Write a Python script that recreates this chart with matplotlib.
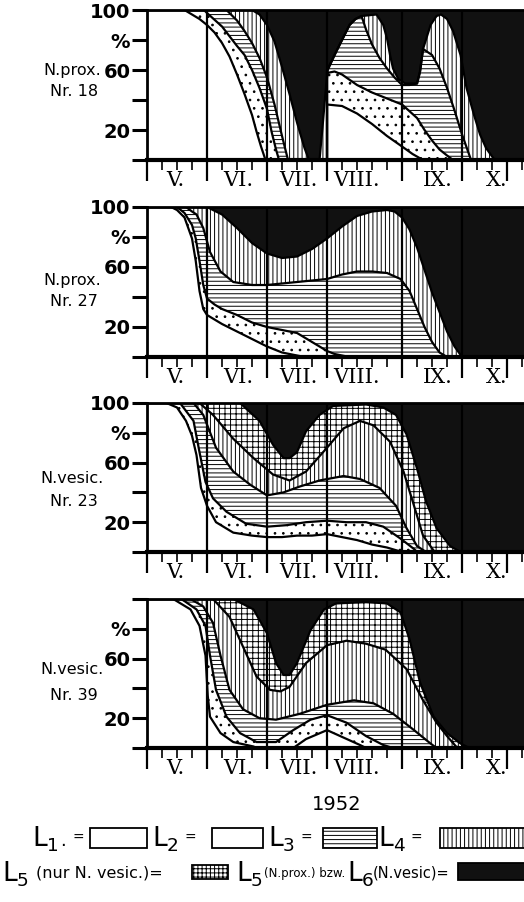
import numpy as np
import matplotlib
matplotlib.use("Agg")
import matplotlib.pyplot as plt
from matplotlib.patches import Rectangle

W, H = 524, 902
XMAX = 25.13          # right edge of the plots (weeks)
INK = "#111111"

# x axis in weeks from 1 May 1952 (one small tick = one week)
months = ["V.", "VI.", "VII.", "VIII.", "IX.", "X."]
month_at = [1.87, 6.1, 10.1, 14.0, 19.4, 23.3]
month_lines = [4, 8, 12, 17, 21]
major_ticks = [0, 4, 8, 12, 17, 21, 24]

# cumulative upper borders of the stages in % (L1, L1+L2, ...), black above the last one
# N.prox. Nr. 18
p18_x1 = [0, 2.5, 3, 3.5, 4, 4.5, 5, 5.5, 6, 6.5, 7, 7.3, 7.6, 7.9, 12, 12, 13, 14, 15, 16, 17, 17.7, 18.4, 25.2]
p18_y1 = [100, 100, 97, 94, 90, 85, 78, 69, 57, 44, 30, 19, 9, 0, 0, 37, 36, 31, 24, 16, 9, 4, 0, 0]
p18_x2 = [0, 3.8, 4, 5, 6, 6.5, 7, 7.5, 8, 8.3, 8.6, 8.8, 12, 12, 12.5, 13, 14, 15, 16, 17, 18, 18.5, 19, 19.5, 20, 20.4, 25.2]
p18_y2 = [100, 100, 98, 89, 76, 70, 60, 48, 34, 19, 7, 0, 0, 58, 59, 57, 50, 45, 41, 37, 28, 20, 13, 7, 3, 0, 0]
p18_x3 = [0, 5.3, 6, 6.5, 7, 7.5, 8, 8.5, 9, 9.4, 12, 12, 12.6, 13.1, 13.5, 13.9, 14.3, 14.6, 15, 15.5, 16, 16.5,
          17, 17.5, 18, 18.2, 18.4, 19, 19.5, 20, 20.5, 21, 21.6, 25.2]
p18_y3 = [100, 100, 93, 86, 78, 68, 55, 37, 16, 0, 0, 60, 72, 82, 90, 94, 96, 87, 77, 68, 61, 55,
          50, 50, 51, 59, 74, 70, 61, 48, 33, 17, 0, 0]
p18_x4 = [0, 7.0, 7.5, 8, 8.5, 9, 9.5, 10, 10.5, 10.8, 11.5, 11.7, 11.9, 12.05, 12.6, 13.1, 13.5, 13.9, 14.3, 15.3,
          15.75, 16, 16.2, 16.4, 16.75, 17.2, 18, 18.2, 18.4, 18.9, 19.3, 19.6, 20, 20.4, 20.9, 21.3, 21.8, 22.2,
          22.6, 23.1, 23.3, 25.2]
p18_y4 = [100, 100, 97, 90, 79, 62, 44, 25, 8, 0, 0, 22, 45, 60, 72, 82, 90, 94, 96, 97,
          90, 81, 70, 61, 54, 51, 51, 59, 74, 90, 96, 97, 94, 86, 70, 48, 30, 17,
          8, 1, 0, 0]

# N.prox. Nr. 27
p27_x1 = [0, 1.6, 2, 2.5, 3, 3.25, 3.5, 3.75, 4, 5, 6, 7, 8, 9, 10, 10.5, 25.2]
p27_y1 = [100, 100, 98, 93, 79, 64, 44, 32, 28, 22, 17, 12, 7, 3, 1, 0, 0]
p27_x2 = [0, 2, 2.5, 3, 3.25, 3.5, 3.75, 4, 4.5, 5, 6, 7, 8, 9, 10, 10.5, 11, 11.5, 12, 12.5, 13, 13.5, 25.2]
p27_y2 = [100, 100, 96, 88, 79, 64, 48, 39, 35, 32, 28, 23, 20, 18, 16, 13, 10, 7, 4, 2, 1, 0, 0]
p27_x3 = [0, 2.6, 3, 3.3, 3.75, 4.2, 4.9, 5.75, 7, 8, 9, 10, 11, 12, 13, 14, 15, 16, 16.9, 17.5, 18, 18.5, 19,
          19.5, 20, 25.2]
p27_y3 = [100, 100, 97, 95, 86, 70, 57, 50, 48, 48, 49, 50, 51, 52, 55, 57, 57, 56, 52, 44, 32, 20, 10,
          3, 0, 0]
p27_x4 = [0, 4, 5, 6, 7, 8, 9, 10, 11, 12, 13, 14, 15, 16, 16.5, 17, 17.5, 18, 18.5, 19, 19.5, 20, 20.5, 21, 25.2]
p27_y4 = [100, 100, 95, 86, 76, 69, 66, 67, 72, 79, 87, 94, 97, 98, 97, 93, 85, 73, 58, 43, 30, 17, 7, 0, 0]

# N.vesic. Nr. 23
p23_x1 = [0, 1.3, 2, 2.6, 3, 3.3, 3.6, 4, 4.6, 5.75, 7, 8, 9, 10, 11, 12, 13, 14, 15, 16, 17, 25.2]
p23_y1 = [100, 100, 97, 88, 78, 65, 43, 31, 20, 13, 11, 10, 10, 11, 11, 12, 10, 8, 5, 3, 0, 0]
p23_x2 = [0, 2.2, 3.1, 3.5, 3.9, 4.4, 5.3, 6.6, 8, 9.3, 10.6, 12, 13.3, 14.6, 15.75, 16.9, 17.8, 18, 25.2]
p23_y2 = [100, 100, 88, 67, 47, 36, 27, 19, 17, 18, 20, 21, 20, 20, 17, 9, 2, 0, 0]
p23_x3 = [0, 3.1, 3.75, 4.6, 5.75, 6.9, 8, 9.1, 10.2, 11.5, 13.1, 14.2, 15.5, 16.6, 17.3, 18, 18.6, 25.2]
p23_y3 = [100, 100, 92, 70, 54, 45, 38, 40, 44, 48, 51, 49, 43, 31, 16, 4, 0, 0]
p23_x4 = [0, 3.5, 4.4, 5.75, 7.1, 8.4, 9.5, 10.6, 12, 13.1, 14.2, 15.1, 16.2, 17.1, 17.8, 18.4, 19.1, 19.3, 25.2]
p23_y4 = [100, 100, 92, 76, 63, 52, 48, 54, 70, 83, 88, 85, 74, 54, 31, 11, 1, 0, 0]
p23_x5 = [0, 6.2, 7.5, 8.4, 9.1, 9.5, 10, 10.6, 11.5, 12.4, 14.6, 15.75, 16.6, 17.3, 18, 18.6, 19.3, 20.2, 20.9, 25.2]
p23_y5 = [100, 100, 88, 72, 63, 63, 67, 81, 92, 98, 99, 97, 92, 79, 56, 34, 16, 4, 0, 0]

# N.vesic. Nr. 39
p39_x1 = [0, 1.75, 2.9, 3.5, 3.9, 4.05, 4.2, 4.9, 5.75, 7.1, 7.3, 9.75, 10.6, 12, 13.1, 14.2, 14.6, 25.2]
p39_y1 = [100, 100, 93, 82, 62, 35, 21, 10, 4, 1, 0, 0, 6, 12, 7, 2, 0, 0]
p39_x2 = [0, 2.3, 3.3, 3.9, 4.2, 4.6, 5.3, 6.2, 7.3, 8.6, 9.75, 10.9, 12, 13.3, 14.6, 15.75, 16.4, 25.2]
p39_y2 = [100, 100, 93, 82, 62, 39, 21, 10, 4, 4, 12, 19, 22, 17, 8, 2, 0, 0]
p39_x3 = [0, 2.9, 3.75, 4.4, 4.9, 5.5, 6.4, 7.5, 8.6, 10.2, 12, 13.8, 15.1, 16.4, 17.8, 18.9, 19.3, 25.2]
p39_y3 = [100, 100, 95, 84, 62, 39, 26, 20, 19, 23, 29, 32, 30, 23, 12, 3, 0, 0]
p39_x4 = [0, 4.4, 5.5, 6.4, 7.3, 8.2, 8.9, 9.5, 10.6, 12, 13.3, 14.6, 15.9, 17.3, 18.4, 19.3, 20, 20.6, 20.9, 25.2]
p39_y4 = [100, 100, 88, 68, 48, 39, 38, 41, 57, 69, 72, 70, 66, 53, 32, 17, 8, 1, 0, 0]
p39_x5 = [0, 5.75, 7.1, 8, 8.6, 9.1, 9.5, 10, 10.9, 11.8, 12.6, 14.6, 16, 16.9, 17.5, 18.2, 19.1, 20, 20.9, 21.5, 25.2]
p39_y5 = [100, 100, 93, 77, 57, 49, 49, 57, 79, 93, 97, 98, 97, 91, 73, 44, 21, 10, 3, 0, 0]

prox_hatch = [None, "..", "----", "||||"]
vesic_hatch = [None, "..", "----", "||||", "+++"]

panels = [
    # (label 1, label 2, curves, hatches, top px, bottom px, y tick labels)
    ("N.prox.", "Nr. 18", [(p18_x1, p18_y1), (p18_x2, p18_y2), (p18_x3, p18_y3), (p18_x4, p18_y4)],
     prox_hatch, 10, 160, ["", "20", "", "60", "%", "100"]),
    ("N.prox.", "Nr. 27", [(p27_x1, p27_y1), (p27_x2, p27_y2), (p27_x3, p27_y3), (p27_x4, p27_y4)],
     prox_hatch, 207, 357, ["", "20", "", "60", "%", "100"]),
    ("N.vesic.", "Nr. 23", [(p23_x1, p23_y1), (p23_x2, p23_y2), (p23_x3, p23_y3), (p23_x4, p23_y4),
                            (p23_x5, p23_y5)],
     vesic_hatch, 403, 552, ["", "20", "", "60", "%", "100"]),
    ("N.vesic.", "Nr. 39", [(p39_x1, p39_y1), (p39_x2, p39_y2), (p39_x3, p39_y3), (p39_x4, p39_y4),
                            (p39_x5, p39_y5)],
     vesic_hatch, 599, 748, ["", "20", "", "60", "%", ""]),
]
label_dy = [(60, 82), (74, 95), (76, 98), (70, 96)]

plt.rcParams["hatch.linewidth"] = 0.7
plt.rcParams["font.family"] = ["DejaVu Sans"]
fig = plt.figure(figsize=(W / 100, H / 100), dpi=100)


def fx(px):
    return px / W


def fy(py):
    return 1 - py / H


for (lab1, lab2, curves, hatches, top, bot, ylabs), (d1, d2) in zip(panels, label_dy):
    ax = fig.add_axes([fx(147), fy(bot), fx(W - 147), (bot - top) / H])
    ax.fill_between([0, XMAX + 1], 0, 100, color=INK, lw=0, zorder=1)
    for k in range(len(curves) - 1, -1, -1):
        x, y = curves[k]
        ax.fill_between(x, 0, y, facecolor="white", edgecolor="black", hatch=hatches[k], lw=0, zorder=2)
    for x, y in curves:
        ax.plot(x, y, color="black", lw=1.6, zorder=3, solid_joinstyle="round")
    for m in month_lines:
        ax.axvline(m, color="black", lw=1.6, zorder=3)

    ax.set_xlim(0, XMAX)
    ax.set_ylim(0, 100)
    ax.spines["right"].set_visible(False)
    ax.spines["left"].set_linewidth(2)
    ax.spines["top"].set_linewidth(2)
    ax.spines["bottom"].set_linewidth(3)
    for s in ax.spines.values():
        s.set_zorder(4)

    ax.set_yticks([0, 20, 40, 60, 80, 100])
    ax.set_yticklabels(ylabs, fontweight="bold")
    ax.tick_params(axis="y", direction="out", length=11, width=2.2, labelsize=14, pad=1)
    ax.set_xticks(major_ticks)
    ax.set_xticklabels([])
    ax.set_xticks([w for w in range(1, 26) if w not in major_ticks], minor=True)
    ax.tick_params(axis="x", which="major", direction="out", length=15, width=1.6)
    ax.tick_params(axis="x", which="minor", direction="out", length=7, width=1.2)

    for name, pos in zip(months, month_at):
        ax.text(pos, -13.5, name, ha="center", va="center", fontsize=15,
                family="DejaVu Serif", clip_on=False)

    fig.text(fx(72), fy(top + d1), lab1, ha="center", va="center", fontsize=11.5)
    fig.text(fx(74), fy(top + d2), lab2, ha="center", va="center", fontsize=11.5)

fig.text(fx(337), fy(805), "1952", ha="center", va="center", fontsize=14)


# legend
def stage(x, y, num, size=19):
    fig.text(fx(x), fy(y), "L", ha="left", va="baseline", fontsize=size)
    fig.text(fx(x + 15), fy(y + 5), num, ha="left", va="baseline", fontsize=size * 0.7)


def box(x0, y0, x1, y1, hatch=None, color="white"):
    fig.patches.append(Rectangle((fx(x0), fy(y1)), fx(x1 - x0), (y1 - y0) / H, transform=fig.transFigure,
                                 facecolor=color, edgecolor="black", hatch=hatch, lw=1.3))


row1 = 846
stage(32, row1, "1")
fig.text(fx(60), fy(row1), ".", ha="left", va="baseline", fontsize=13)
fig.text(fx(72), fy(838), "=", ha="left", va="center", fontsize=10)
box(90, 828, 147, 848)
stage(152, row1, "2")
fig.text(fx(184), fy(838), "=", ha="left", va="center", fontsize=10)
box(212, 828, 263, 848)
stage(268, row1, "3")
fig.text(fx(300), fy(838), "=", ha="left", va="center", fontsize=10)
box(323, 828, 377, 848, hatch="----")
stage(378, row1, "4")
fig.text(fx(411), fy(838), "=", ha="left", va="center", fontsize=10)
box(440, 828, 540, 848, hatch="||||")

row2 = 881
stage(2, row2, "5")
fig.text(fx(36), fy(877), "(nur N. vesic.)=", ha="left", va="baseline", fontsize=11.5)
box(192, 865, 228, 879, hatch="++++")
stage(236, row2, "5")
fig.text(fx(264), fy(877), "(N.prox.) bzw.", ha="left", va="baseline", fontsize=8.5)
stage(347, row2, "6")
fig.text(fx(373), fy(877), "(N.vesic)=", ha="left", va="baseline", fontsize=10.5)
box(458, 863, 540, 880, color=INK)

fig.savefig("out.png", dpi=100)
